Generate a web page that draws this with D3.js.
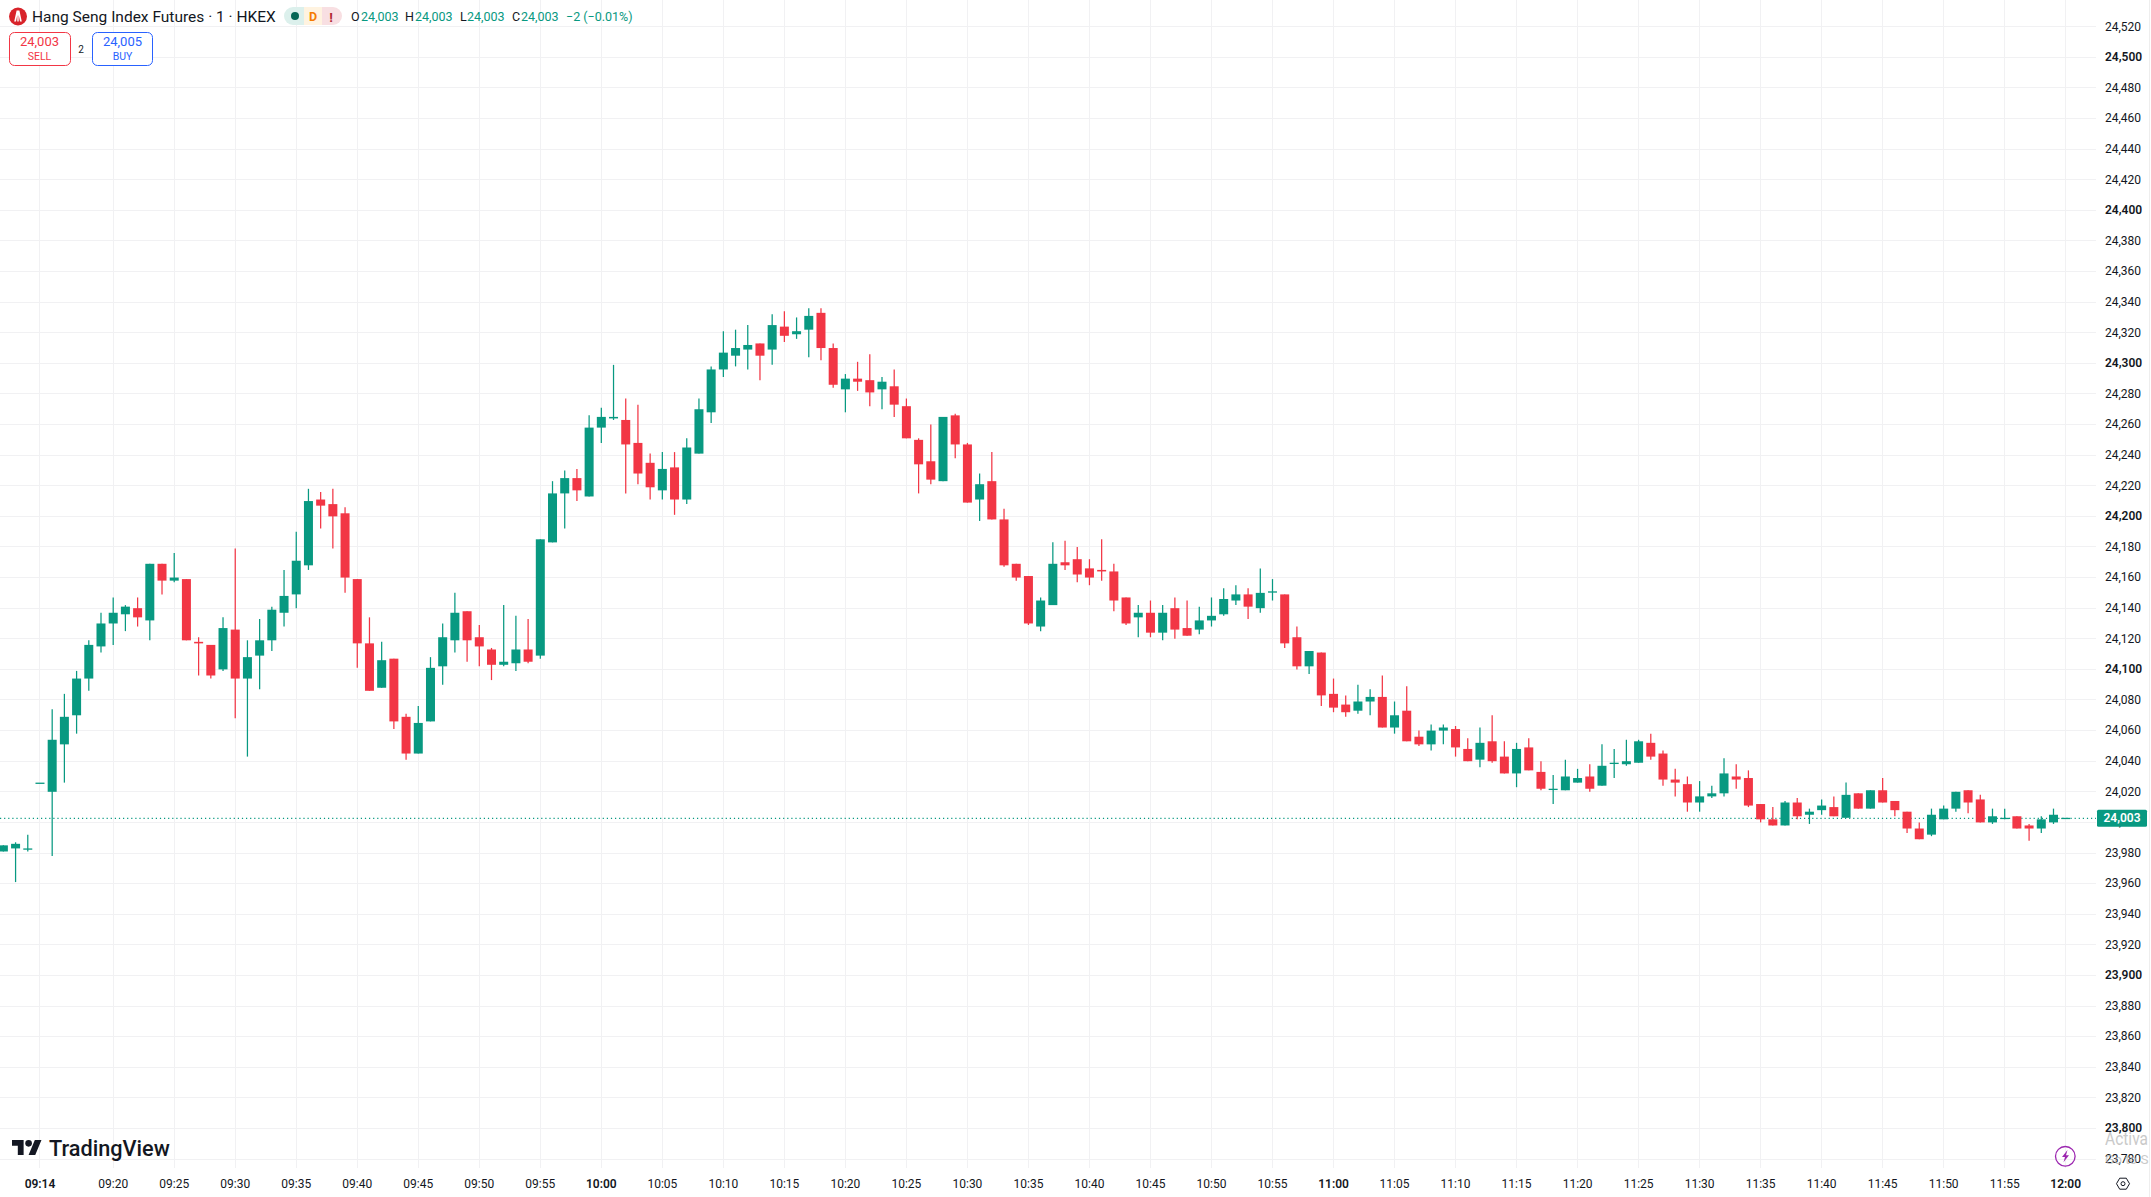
<!DOCTYPE html>
<html>
    <head>
        <meta charset="utf-8">
        <title>Hang Seng Index Futures 1 min</title>
        <style type="text/css">
            html, body {
                margin: 0;
                padding: 0;
                background-color: #ffffff;
                overflow: hidden;
            }

            svg {
                display: block;
                font-family: Roboto, sans-serif;
            }

            .tick text {
                font-size: 12px;
                fill: #131722;
                font-family: Roboto, sans-serif;
            }

            .tick text.major {
                font-weight: 600;
            }

            .grid-h .tick line, .grid-v .tick line {
                stroke: #f1f1f3;
                shape-rendering: crispEdges;
            }
        </style>
        <script src="https://d3js.org/d3.v7.min.js"></script>
    </head>

    <body>
        <svg id="chart" width="2151" height="1197"></svg>

        <script>
            // first bar is 09:11, one bar per minute up to 12:00
            const firstBarMinute = 551;

            const opens = [23981,23983,23983,24026,24020,24051,24070,24094,24115,24130,
                24136,24140,24132,24169,24158,24159,24118,24116,24100,24126,
                24094,24109,24119,24137,24149,24168,24211,24208,24202,24159,
                24117,24088,24107,24069,24045,24066,24102,24119,24138,24121,
                24113,24103,24104,24113,24109,24183,24215,24225,24213,24258,
                24264,24263,24248,24235,24217,24232,24211,24241,24268,24296,
                24305,24309,24313,24309,24324,24319,24322,24333,24310,24283,
                24290,24289,24283,24285,24272,24250,24236,24223,24266,24247,
                24211,24223,24198,24169,24161,24128,24142,24170,24172,24166,
                24165,24164,24147,24134,24137,24124,24140,24127,24126,24132,
                24136,24145,24149,24140,24151,24149,24121,24102,24111,24084,
                24077,24073,24079,24082,24062,24073,24056,24051,24060,24061,
                24048,24041,24053,24043,24032,24049,24033,24022,24021,24026,
                24030,24024,24039,24038,24039,24052,24045,24028,24025,24013,
                24017,24019,24030,24029,24012,24002,23998,24013,24005,24008,
                24010,24003,24019,24009,24021,24014,24007,23996,23992,24002,
                24009,24021,24015,24000,24003,24004,23998,23996,24000,24003];

            const highs = [23985,23987,23992,24026,24074,24084,24099,24119,24137,24147,
                24142,24147,24169,24169,24176,24159,24121,24116,24134,24179,
                24119,24133,24141,24165,24190,24218,24216,24218,24206,24159,
                24134,24118,24107,24071,24076,24108,24130,24150,24138,24129,
                24114,24142,24135,24133,24185,24223,24230,24231,24266,24271,
                24299,24277,24273,24241,24242,24242,24251,24277,24298,24321,
                24322,24325,24313,24332,24334,24330,24336,24336,24313,24293,
                24301,24306,24291,24296,24277,24251,24260,24265,24267,24248,
                24228,24242,24205,24169,24161,24147,24183,24184,24180,24172,
                24185,24169,24147,24142,24145,24142,24147,24145,24141,24147,
                24153,24155,24153,24166,24159,24149,24128,24112,24111,24094,
                24083,24090,24087,24096,24079,24089,24060,24064,24064,24063,
                24055,24062,24070,24053,24052,24055,24040,24031,24041,24035,
                24038,24051,24048,24054,24054,24058,24047,24035,24030,24027,
                24024,24042,24038,24034,24012,24010,24014,24016,24009,24015,
                24017,24026,24019,24021,24029,24014,24007,24000,24009,24011,
                24020,24021,24018,24009,24009,24004,23999,24004,24009,24003];

            const lows = [23981,23961,23981,24026,23978,24026,24058,24086,24111,24116,
                24125,24128,24119,24149,24157,24119,24096,24094,24099,24068,
                24043,24087,24112,24128,24140,24165,24192,24179,24150,24101,
                24086,24088,24061,24041,24045,24066,24090,24111,24105,24102,
                24093,24102,24099,24104,24107,24183,24192,24210,24213,24248,
                24263,24215,24221,24211,24211,24201,24208,24241,24261,24291,
                24298,24296,24289,24299,24314,24316,24304,24302,24284,24268,
                24282,24272,24270,24265,24251,24215,24221,24223,24238,24209,
                24197,24198,24167,24158,24129,24125,24142,24165,24157,24155,
                24158,24138,24129,24121,24121,24119,24120,24122,24123,24128,
                24135,24142,24133,24137,24145,24114,24100,24097,24076,24072,
                24069,24071,24070,24062,24058,24053,24050,24047,24051,24043,
                24040,24036,24039,24032,24023,24034,24021,24012,24021,24026,
                24020,24024,24029,24037,24039,24041,24024,24017,24007,24007,
                24016,24017,24022,24010,24000,23998,23998,24002,23999,24005,
                24004,24003,24009,24009,24013,24004,23993,23989,23991,24002,
                24007,24006,24000,23999,24002,23996,23988,23993,23999,24003];

            const closes = [23985,23986,23983,24026,24054,24069,24094,24116,24130,24137,
                24141,24134,24169,24158,24160,24119,24117,24096,24127,24094,
                24108,24119,24139,24148,24171,24210,24207,24200,24160,24117,
                24086,24106,24066,24045,24065,24101,24121,24137,24119,24115,
                24103,24105,24113,24105,24185,24215,24225,24217,24258,24265,
                24265,24247,24228,24219,24231,24211,24245,24270,24296,24307,
                24310,24312,24305,24325,24318,24321,24331,24310,24286,24290,
                24288,24281,24288,24273,24251,24234,24224,24265,24247,24209,
                24221,24198,24168,24160,24130,24145,24169,24168,24162,24160,
                24164,24145,24130,24137,24124,24137,24126,24122,24132,24135,
                24146,24149,24141,24150,24151,24117,24102,24112,24083,24075,
                24072,24079,24082,24062,24070,24053,24051,24060,24062,24049,
                24040,24052,24040,24032,24048,24034,24022,24022,24030,24029,
                24022,24037,24039,24040,24053,24043,24028,24026,24013,24017,
                24019,24032,24028,24011,24002,23998,24013,24004,24007,24011,
                24004,24018,24009,24021,24013,24008,23996,23989,24005,24009,
                24020,24013,24000,24004,24003,23996,23996,24002,24005,24003];

            const priceTicks = d3.range(23780, 24521, 20);
            const majorPrices = [23800, 23900, 24000, 24100, 24200, 24300, 24400, 24500];

            const timeLabels = ["09:14","09:20","09:25","09:30","09:35","09:40","09:45","09:50","09:55",
                "10:00","10:05","10:10","10:15","10:20","10:25","10:30","10:35","10:40","10:45","10:50","10:55",
                "11:00","11:05","11:10","11:15","11:20","11:25","11:30","11:35","11:40","11:45","11:50","11:55",
                "12:00"];
            const majorTimes = ["09:14", "10:00", "11:00", "12:00"];

            const lastPrice = 24003;
            const green = "#089981";
            const red = "#f23645";

            function toMinute(label) {
                const parts = label.split(":");
                return +parts[0] * 60 + +parts[1];
            }

            const plotRight = 2096;
            const plotBottom = 1168;

            const x = d3.scaleLinear().domain([560, 720]).range([113.2, 2065.7]);
            const y = d3.scaleLinear().domain([24000, 24500]).range([822.4, 57.3]);

            const svg = d3.select("#chart");

            // grid lines come from the axes, labels sit on the same ticks
            const yAxis = d3.axisRight(y)
                .tickValues(priceTicks)
                .tickFormat(d3.format(","))
                .tickSize(-plotRight)
                .tickPadding(9)
                .offset(0);

            const gy = svg.append("g")
                .attr("class", "grid-h")
                .attr("transform", `translate(${plotRight},0)`)
                .call(yAxis);
            gy.select(".domain").remove();
            gy.selectAll(".tick text")
                .classed("major", d => majorPrices.includes(d));

            const xAxis = d3.axisBottom(x)
                .tickValues(timeLabels.map(toMinute))
                .tickFormat((d, i) => timeLabels[i])
                .tickSize(-plotBottom)
                .tickPadding(11)
                .offset(0);

            const gx = svg.append("g")
                .attr("class", "grid-v")
                .attr("transform", `translate(0,${plotBottom})`)
                .call(xAxis);
            gx.select(".domain").remove();
            gx.selectAll(".tick text")
                .classed("major", (d, i) => majorTimes.includes(timeLabels[i]));

            // last price line, under the candles
            svg.append("line")
                .attr("x1", 0)
                .attr("x2", plotRight)
                .attr("y1", y(lastPrice) + 0.5)
                .attr("y2", y(lastPrice) + 0.5)
                .attr("stroke", green)
                .attr("stroke-width", 1.2)
                .attr("stroke-dasharray", "1.2 2.9");

            const bars = d3.range(opens.length);
            const barColor = i => closes[i] >= opens[i] ? green : red;
            const barX = i => x(firstBarMinute + i);

            const candles = svg.append("g").attr("class", "candles");

            candles.selectAll("line")
                .data(bars)
                .join("line")
                .attr("x1", barX)
                .attr("x2", barX)
                .attr("y1", i => y(highs[i]))
                .attr("y2", i => y(lows[i]))
                .attr("stroke", barColor)
                .attr("stroke-width", 1.25);

            candles.selectAll("rect")
                .data(bars)
                .join("rect")
                .attr("x", i => barX(i) - 4.5)
                .attr("width", 9)
                .attr("y", i => y(Math.max(opens[i], closes[i])))
                .attr("height", i => Math.max(1.3, Math.abs(y(opens[i]) - y(closes[i]))))
                .attr("fill", barColor);

            // current price tag on the scale
            svg.append("rect")
                .attr("x", 2097)
                .attr("y", y(lastPrice) - 8)
                .attr("width", 50)
                .attr("height", 17)
                .attr("rx", 1.5)
                .attr("fill", green);

            function label(txt, px, py, opts) {
                opts = opts || {};
                return svg.append("text")
                    .text(txt)
                    .attr("x", px)
                    .attr("y", py)
                    .attr("dominant-baseline", "central")
                    .attr("text-anchor", opts.anchor || "start")
                    .attr("font-size", opts.size || 12)
                    .attr("font-weight", opts.weight || 400)
                    .attr("fill", opts.fill || "#131722");
            }

            label(d3.format(",")(lastPrice), 2122, y(lastPrice) + 0.5, {anchor: "middle", fill: "#ffffff", weight: 600});

            // header: symbol, status pills, ohlc
            svg.append("circle").attr("cx", 18).attr("cy", 16.5).attr("r", 9).attr("fill", "#d8232a");
            svg.append("path")
                .attr("d", "M16.6 10.5h2.8l2.4 11h-1.8l-1.3-6.5v6.5h-1.4v-6.5l-1.3 6.5h-1.8z")
                .attr("fill", "#ffffff");
            label("Hang Seng Index Futures · 1 · HKEX", 32, 16.5, {size: 15.5});

            svg.append("path").attr("d", "M304 7h-11a9 9 0 0 0 0 18h11z").attr("fill", "#dcf0ec");
            svg.append("rect").attr("x", 304).attr("y", 7).attr("width", 18).attr("height", 18).attr("fill", "#fff3e0");
            svg.append("path").attr("d", "M322 7h11a9 9 0 0 1 0 18h-11z").attr("fill", "#f8dfe2");
            svg.append("circle").attr("cx", 295).attr("cy", 16).attr("r", 4).attr("fill", "#056656");
            label("D", 313, 16.5, {anchor: "middle", size: 12.5, weight: 700, fill: "#f57c00"});
            label("!", 331, 16.5, {anchor: "middle", size: 13.5, weight: 700, fill: "#b22833"});

            const ohlcLetters = ["O", "H", "L", "C"];
            const ohlcLetterX = [351, 405, 460, 512];
            const ohlcValueX = [361, 415, 467, 521];
            ohlcLetters.forEach((d, i) => {
                label(d, ohlcLetterX[i], 16.5, {size: 12.5});
                label("24,003", ohlcValueX[i], 16.5, {size: 12.5, fill: green});
            });
            label("−2 (−0.01%)", 566, 16.5, {size: 12.5, fill: green});

            // sell / buy boxes
            svg.append("rect").attr("x", 9.5).attr("y", 32.5).attr("width", 61).attr("height", 33)
                .attr("rx", 5).attr("fill", "#ffffff").attr("stroke", red);
            svg.append("rect").attr("x", 92.5).attr("y", 32.5).attr("width", 60).attr("height", 33)
                .attr("rx", 5).attr("fill", "#ffffff").attr("stroke", "#2962ff");
            label("24,003", 39.5, 41.5, {anchor: "middle", size: 13, fill: red});
            label("SELL", 39.5, 56, {anchor: "middle", size: 10.5, fill: red});
            label("2", 81, 49, {anchor: "middle", size: 10});
            label("24,005", 122.5, 41.5, {anchor: "middle", size: 13, fill: "#2962ff"});
            label("BUY", 122.5, 56, {anchor: "middle", size: 10.5, fill: "#2962ff"});

            // tradingview mark
            const mark = svg.append("g").attr("transform", "translate(12,1136.7) scale(0.83)").attr("fill", "#131722");
            mark.append("path").attr("d", "M14 22H7V11H0V4h14v18zM28 22h-8l7.5-18h8L28 22z");
            mark.append("circle").attr("cx", 20).attr("cy", 8).attr("r", 4);
            label("TradingView", 49, 1148, {size: 21.7, weight: 500});

            // lightning badge and settings hexagon
            svg.append("circle").attr("cx", 2065.3).attr("cy", 1156.3).attr("r", 9.8)
                .attr("fill", "none").attr("stroke", "#9c27b0").attr("stroke-width", 1.3);
            svg.append("path")
                .attr("d", "M2067.5 1150l-5.5 7h3l-1.5 5.2 5.5-7h-3z")
                .attr("fill", "#9c27b0");
            svg.append("path")
                .attr("d", "M2116.5 1183.7l3.2-5.5h6.6l3.2 5.5-3.2 5.5h-6.6z")
                .attr("fill", "none").attr("stroke", "#131722").attr("stroke-width", 1);
            svg.append("circle").attr("cx", 2123).attr("cy", 1183.7).attr("r", 2)
                .attr("fill", "none").attr("stroke", "#131722").attr("stroke-width", 1);

            // windows watermark over the scale corner
            label("Activa", 2105, 1138, {size: 18, fill: "#b8b8b8"})
                .attr("opacity", 0.75)
                .attr("textLength", 43)
                .attr("lengthAdjust", "spacingAndGlyphs");
            label("Go to S", 2105, 1159, {size: 13.5, fill: "#b8b8b8"}).attr("opacity", 0.75);

            svg.append("line")
                .attr("x1", 2149.5).attr("x2", 2149.5).attr("y1", 0).attr("y2", 1197)
                .attr("stroke", "#eeeeee");
        </script>
    </body>
</html>
